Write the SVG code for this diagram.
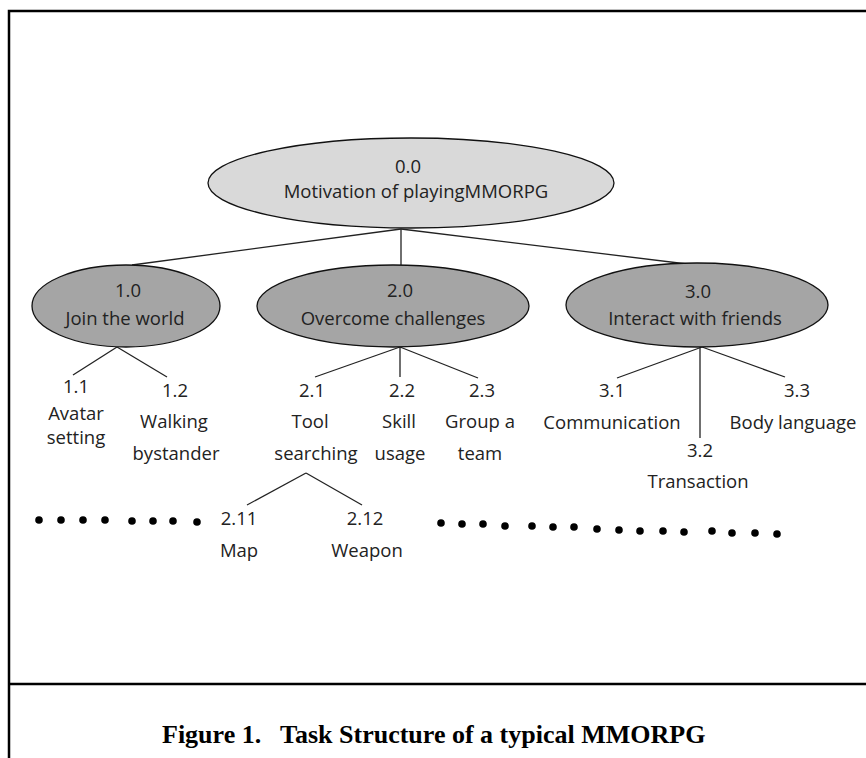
<svg xmlns="http://www.w3.org/2000/svg" width="866" height="758" viewBox="0 0 866 758">
<style>
.t{font-family:"Open Sans","Liberation Sans",sans-serif;font-size:18.5px;fill:#222;text-anchor:middle}
.e0{fill:#d9d9d9;stroke:#111;stroke-width:1.3}
.e1{fill:#a5a5a5;stroke:#111;stroke-width:1.3}
.c line{stroke:#222;stroke-width:1.3}
.d circle{fill:#000}
.cap{font-family:"Liberation Serif","Times New Roman",serif;font-weight:bold;font-size:26px;fill:#000}
</style>
<rect width="866" height="758" fill="#fff"/>
<g id="frame" stroke="#000" stroke-width="2.5" fill="none">
<path d="M9 758 V11 H866"/>
<path d="M9 684 H866"/>
</g>
<g class="c" id="connectors">
<line x1="401" y1="229" x2="132" y2="265"/>
<line x1="401" y1="229" x2="401" y2="265"/>
<line x1="401" y1="229" x2="687" y2="264"/>
<line x1="117" y1="347" x2="73" y2="375"/>
<line x1="117" y1="347" x2="167" y2="377"/>
<line x1="400" y1="347" x2="315" y2="377"/>
<line x1="400" y1="347" x2="400" y2="377"/>
<line x1="400" y1="347" x2="478" y2="378"/>
<line x1="702" y1="347" x2="617" y2="378"/>
<line x1="700" y1="347" x2="700" y2="438"/>
<line x1="702" y1="347" x2="785" y2="377"/>
<line x1="306" y1="473" x2="247" y2="505"/>
<line x1="306" y1="473" x2="362" y2="505"/>
</g>
<g id="n0"><ellipse class="e0" cx="411" cy="183" rx="203" ry="45"/><text class="t" x="408" y="173">0.0</text><text class="t" x="416" y="198">Motivation of playingMMORPG</text></g>
<g id="n1"><ellipse class="e1" cx="126" cy="306" rx="94" ry="41"/><text class="t" x="128" y="297">1.0</text><text class="t" x="125" y="325">Join the world</text></g>
<g id="n2"><ellipse class="e1" cx="393" cy="306" rx="136" ry="41"/><text class="t" x="400" y="297">2.0</text><text class="t" x="393" y="325">Overcome challenges</text></g>
<g id="n3"><ellipse class="e1" cx="697" cy="305" rx="131" ry="42"/><text class="t" x="698" y="298">3.0</text><text class="t" x="695" y="325">Interact with friends</text></g>
<g id="n11"><text class="t" x="76" y="393">1.1</text><text class="t" x="76" y="420">Avatar</text><text class="t" x="76" y="444">setting</text></g>
<g id="n12"><text class="t" x="175" y="397">1.2</text><text class="t" x="174" y="428">Walking</text><text class="t" x="176" y="460">bystander</text></g>
<g id="n21"><text class="t" x="312" y="397">2.1</text><text class="t" x="310" y="428">Tool</text><text class="t" x="316" y="460">searching</text></g>
<g id="n22"><text class="t" x="402" y="397">2.2</text><text class="t" x="399" y="428">Skill</text><text class="t" x="400" y="460">usage</text></g>
<g id="n23"><text class="t" x="482" y="397">2.3</text><text class="t" x="480" y="428">Group a</text><text class="t" x="480" y="460">team</text></g>
<g id="n31"><text class="t" x="612" y="397">3.1</text><text class="t" x="612" y="429">Communication</text></g>
<g id="n32"><text class="t" x="700" y="457">3.2</text><text class="t" x="698" y="488">Transaction</text></g>
<g id="n33"><text class="t" x="797" y="397">3.3</text><text class="t" x="793" y="429">Body language</text></g>
<g id="n211"><text class="t" x="239" y="525">2.11</text><text class="t" x="239" y="557">Map</text></g>
<g id="n212"><text class="t" x="365" y="525">2.12</text><text class="t" x="367" y="557">Weapon</text></g>
<g class="d" id="dots">
<circle cx="39" cy="520" r="3.8"/><circle cx="61" cy="520" r="3.8"/><circle cx="83" cy="520" r="3.8"/><circle cx="105" cy="520" r="3.8"/><circle cx="132" cy="521" r="3.8"/><circle cx="153" cy="521" r="3.8"/><circle cx="173" cy="521" r="3.8"/><circle cx="197" cy="522" r="3.8"/>
<circle cx="441" cy="523" r="3.8"/><circle cx="462" cy="524" r="3.8"/><circle cx="483" cy="524" r="3.8"/><circle cx="505" cy="526" r="3.8"/><circle cx="532" cy="526" r="3.8"/><circle cx="553" cy="527" r="3.8"/><circle cx="574" cy="527" r="3.8"/><circle cx="597" cy="529" r="3.8"/><circle cx="619" cy="530" r="3.8"/><circle cx="640" cy="531" r="3.8"/><circle cx="663" cy="531" r="3.8"/><circle cx="684" cy="532" r="3.8"/><circle cx="712" cy="531" r="3.8"/><circle cx="732" cy="533" r="3.8"/><circle cx="755" cy="533" r="3.8"/><circle cx="777" cy="534" r="3.8"/>
</g>
<g id="caption"><text class="cap" x="162" y="743">Figure 1.</text><text class="cap" x="280" y="743">Task Structure of a typical MMORPG</text></g>
</svg>
